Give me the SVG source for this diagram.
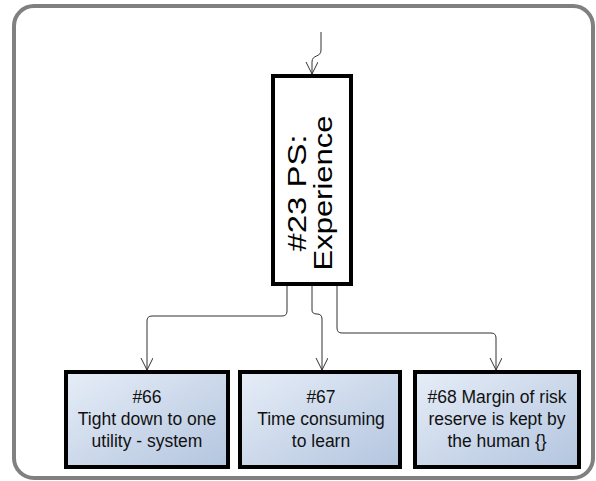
<svg xmlns="http://www.w3.org/2000/svg" width="596" height="481" viewBox="0 0 596 481">
<defs>
<linearGradient id="boxfill" x1="0" y1="0" x2="1" y2="1">
<stop offset="0" stop-color="#e6edf7"/>
<stop offset="1" stop-color="#b3c5df"/>
</linearGradient>
<marker id="arr" markerWidth="14" markerHeight="14" refX="12" refY="6" orient="auto" markerUnits="userSpaceOnUse">
<path d="M0,0 L12,6 L0,12" fill="none" stroke="#333" stroke-width="1"/>
</marker>
<style>
.frame{fill:#fff;stroke:#808080;stroke-width:4}
.main{fill:#fff;stroke:#000;stroke-width:4}
.box{fill:url(#boxfill);stroke:#000;stroke-width:4}
.conn{fill:none;stroke:#333;stroke-width:1;marker-end:url(#arr)}
.t{font-family:"Liberation Sans",Arial,sans-serif;font-size:17.5px;fill:#111;text-anchor:middle}
.mt{font-family:"Liberation Sans",Arial,sans-serif;font-size:26px;fill:#000;text-anchor:middle}
</style>
</defs>
<rect class="frame" x="14" y="6" width="579" height="472" rx="20" ry="20"/>
<g id="connectors">
<path class="conn" d="M321,32 L321,50 C321,58 312,54 312,62 L312,74"/>
<path class="conn" d="M287,286 L287,311 Q287,316 282,316 L152,316 Q147,316 147,321 L147,370"/>
<path class="conn" d="M312,286 L312,310 Q312,314 317,314 Q322,314 322,319 L322,370"/>
<path class="conn" d="M337,286 L337,328 Q337,333 342,333 L491,333 Q496,333 496,338 L496,370"/>
</g>
<g id="n23">
<rect class="main" x="273" y="76" width="78" height="208"/>
<text class="mt" transform="translate(306,193) rotate(-90)" textLength="117" lengthAdjust="spacingAndGlyphs">#23 PS:</text>
<text class="mt" transform="translate(332,193) rotate(-90)" textLength="155" lengthAdjust="spacingAndGlyphs">Experience</text>
</g>
<g id="n66">
<rect class="box" x="66" y="372" width="162" height="95"/>
<text class="t" x="147" y="403">#66</text>
<text class="t" x="147" y="425">Tight down to one</text>
<text class="t" x="147" y="447">utility - system</text>
</g>
<g id="n67">
<rect class="box" x="240" y="372" width="160" height="95"/>
<text class="t" x="321" y="403">#67</text>
<text class="t" x="321" y="425">Time consuming</text>
<text class="t" x="321" y="447">to learn</text>
</g>
<g id="n68">
<rect class="box" x="415" y="372" width="164" height="95"/>
<text class="t" x="497" y="403">#68 Margin of risk</text>
<text class="t" x="497" y="425">reserve is kept by</text>
<text class="t" x="497" y="447">the human {}</text>
</g>
</svg>
